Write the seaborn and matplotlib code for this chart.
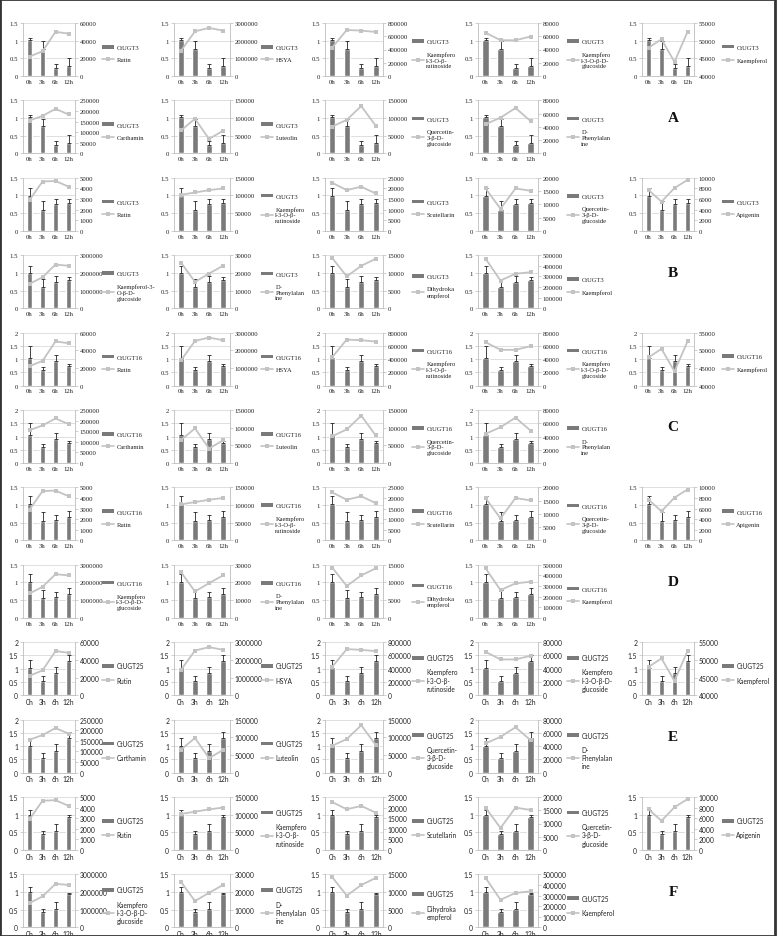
"""Gene expression (bars) vs metabolite content (lines) for CtUGT3 / CtUGT16 / CtUGT25."""

import matplotlib

matplotlib.use("Agg")
import matplotlib.pyplot as plt
import numpy as np
import seaborn as sns
from matplotlib.lines import Line2D
from matplotlib.patches import Patch, Rectangle

TIMES = ["0h", "3h", "6h", "12h"]

# Relative expression (bar height) and upper error bar, per gene / experiment set
UGT3_A_MEAN = [1.03, 0.77, 0.24, 0.29]
UGT3_A_ERR = [0.05, 0.21, 0.10, 0.22]
UGT3_B_MEAN = [0.99, 0.60, 0.75, 0.79]
UGT3_B_ERR = [0.21, 0.23, 0.16, 0.10]
UGT16_C_MEAN = [1.06, 0.59, 0.91, 0.74]
UGT16_C_ERR = [0.45, 0.13, 0.24, 0.09]
UGT16_D_MEAN = [1.02, 0.56, 0.59, 0.67]
UGT16_D_ERR = [0.23, 0.24, 0.14, 0.17]
UGT25_E_MEAN = [1.01, 0.55, 0.83, 1.30]
UGT25_E_ERR = [0.31, 0.19, 0.25, 0.22]
UGT25_F_MEAN = [0.99, 0.44, 0.53, 0.94]
UGT25_F_ERR = [0.15, 0.09, 0.20, 0.04]

# Metabolite content, first metabolite set (groups A, C, E)
RUTIN_1 = [22000, 28000, 50000, 48000]
HSYA_1 = [1430000, 2530000, 2720000, 2570000]
K3RUT_1 = [430000, 695000, 685000, 665000]
K3GLC_1 = [65500, 54000, 54000, 59500]
KAEMPFEROL_1 = [48000, 50400, 44000, 52500]
CARTHAMIN_1 = [155000, 177000, 210000, 184000]
LUTEOLIN_1 = [65000, 98000, 41000, 64000]
Q3GLC_1 = [76000, 95000, 134000, 78000]
DPHE_1 = [44000, 54000, 68500, 49000]

# Metabolite content, second metabolite set (groups B, D, F)
RUTIN_2 = [2900, 4650, 4700, 4170]
K3RUT_2 = [102000, 108500, 115000, 120000]
SCUTELLARIN_2 = [22600, 19200, 20800, 17600]
Q3GLC_2 = [16000, 8300, 16000, 15100]
APIGENIN_2 = [7700, 5500, 8080, 9600]
K3GLC_2 = [1380000, 1750000, 2470000, 2400000]
DPHE_2 = [25800, 14900, 19600, 24000]
DHK_2 = [14200, 9000, 12000, 14000]
KAEMPFEROL_2 = [468000, 261000, 325000, 340000]

# (legend text, values, (right-axis min, max, step))
SET1_ROWS = [
    [
        ("Rutin", RUTIN_1, (0, 60000, 20000)),
        ("HSYA", HSYA_1, (0, 3000000, 1000000)),
        ("Kaempfero\nl-3-O-β-\nrutinoside", K3RUT_1, (0, 800000, 200000)),
        ("Kaempfero\nl-3-O-β-D-\nglucoside", K3GLC_1, (0, 80000, 20000)),
        ("Kaempferol", KAEMPFEROL_1, (40000, 55000, 5000)),
    ],
    [
        ("Carthamin", CARTHAMIN_1, (0, 250000, 50000)),
        ("Luteolin", LUTEOLIN_1, (0, 150000, 50000)),
        ("Quercetin-\n3-β-D-\nglucoside", Q3GLC_1, (0, 150000, 50000)),
        ("D-\nPhenylalan\nine", DPHE_1, (0, 80000, 20000)),
    ],
]


def set2_rows(k3glc_label):
    return [
        [
            ("Rutin", RUTIN_2, (0, 5000, 1000)),
            ("Kaempfero\nl-3-O-β-\nrutinoside", K3RUT_2, (0, 150000, 50000)),
            ("Scutellarin", SCUTELLARIN_2, (0, 25000, 5000)),
            ("Quercetin-\n3-β-D-\nglucoside", Q3GLC_2, (0, 20000, 5000)),
            ("Apigenin", APIGENIN_2, (0, 10000, 2000)),
        ],
        [
            (k3glc_label, K3GLC_2, (0, 3000000, 1000000)),
            ("D-\nPhenylalan\nine", DPHE_2, (0, 30000, 10000)),
            ("Dihydroka\nempferol", DHK_2, (0, 15000, 5000)),
            ("Kaempferol", KAEMPFEROL_2, (0, 500000, 100000)),
        ],
    ]


SERIF = "Liberation Serif"
SANS = "Lato"

GROUPS = [
    ("A", "CtUGT3", UGT3_A_MEAN, UGT3_A_ERR, 1.5, SET1_ROWS, SERIF),
    ("B", "CtUGT3", UGT3_B_MEAN, UGT3_B_ERR, 1.5, set2_rows("Kaempferol-3-\nO-β-D-\nglucoside"), SERIF),
    ("C", "CtUGT16", UGT16_C_MEAN, UGT16_C_ERR, 2.0, SET1_ROWS, SERIF),
    ("D", "CtUGT16", UGT16_D_MEAN, UGT16_D_ERR, 1.5, set2_rows("Kaempfero\nl-3-O-β-D-\nglucoside"), SERIF),
    ("E", "CtUGT25", UGT25_E_MEAN, UGT25_E_ERR, 2.0, SET1_ROWS, SANS),
    ("F", "CtUGT25", UGT25_F_MEAN, UGT25_F_ERR, 1.5, set2_rows("Kaempfero\nl-3-O-β-D-\nglucoside"), SANS),
]

# Layout in pixels
FIG_W, FIG_H = 780, 937
COL_LEFT = [23, 174, 325, 478, 642]
COL_WIDTH = [52, 56, 58, 60, 52]
LEGEND_GAP = [27, 31, 29, 29, 28]
ROW_TOP = 24
ROW_PITCH = 77.4
AX_H = 53
LETTER_X = 673

BAR_COLOR = "#7a7a7a"
LINE_COLOR = "#c3c3c3"
ERR_COLOR = "#222222"
AXIS_COLOR = "#bdbdbd"
GRID_COLOR = "#d9d9d9"
TEXT_COLOR = "#222222"
FONT_SIZE = 4.9
LEGEND_SIZE = 4.7

sns.set_theme(style="white")
plt.rcParams.update({"axes.linewidth": 0.6, "text.color": TEXT_COLOR})


def draw_panel(fig, row, col, gene, means, errs, left_max, spec, family):
    label, values, (lo, hi, step) = spec
    width = COL_WIDTH[col]
    top = ROW_TOP + row * ROW_PITCH
    ax = fig.add_axes([COL_LEFT[col] / FIG_W, 1 - (top + AX_H) / FIG_H, width / FIG_W, AX_H / FIG_H])
    xs = list(range(len(TIMES)))

    sns.barplot(x=TIMES, y=means, color=BAR_COLOR, saturation=1, width=0.42, errorbar=None, ax=ax)
    ax.errorbar(xs, means, yerr=[[0] * len(errs), errs], fmt="none", ecolor=ERR_COLOR,
                elinewidth=0.6, capsize=1.3, capthick=0.6)

    ax2 = ax.twinx()
    sns.lineplot(x=xs, y=values, color=LINE_COLOR, marker="s", markersize=3.3, markeredgewidth=0,
                 linewidth=1.3, errorbar=None, ax=ax2)

    ax.set_xlim(-0.5, len(TIMES) - 0.5)
    ax.set_ylim(0, left_max)
    ax2.set_ylim(lo, hi)
    left_ticks = np.arange(0, left_max + 0.25, 0.5)
    ax.set_yticks(left_ticks, labels=[f"{t:g}" for t in left_ticks], fontsize=FONT_SIZE, fontfamily=family)
    right_ticks = np.arange(lo, hi + step / 2, step)
    ax2.set_yticks(right_ticks, labels=[f"{int(t)}" for t in right_ticks], fontsize=FONT_SIZE, fontfamily=family)
    ax.set_xticks(xs, labels=TIMES, fontsize=FONT_SIZE, fontfamily=family)

    for a in (ax, ax2):
        a.set_xlabel("")
        a.set_ylabel("")
        for side in ("top", "left", "right", "bottom"):
            a.spines[side].set_visible(False)
    ax.spines["left"].set_visible(True)
    ax.spines["bottom"].set_visible(True)
    ax2.spines["right"].set_visible(True)
    for s in (ax.spines["left"], ax.spines["bottom"], ax2.spines["right"]):
        s.set_color(AXIS_COLOR)
        s.set_linewidth(0.6)

    ax.yaxis.grid(True, color=GRID_COLOR, linewidth=0.6)
    ax.set_axisbelow(True)
    ax.tick_params(axis="x", length=0, pad=2, colors=TEXT_COLOR)
    ax.tick_params(axis="y", length=2, width=0.5, pad=1.5, color=AXIS_COLOR, labelcolor=TEXT_COLOR)
    ax2.tick_params(axis="y", length=2, width=0.5, pad=1.5, color=AXIS_COLOR, labelcolor=TEXT_COLOR)

    handles = [
        Patch(facecolor=BAR_COLOR, edgecolor="none"),
        Line2D([], [], color=LINE_COLOR, marker="s", markersize=2.8, markeredgewidth=0, linewidth=1.2),
    ]
    ax2.legend(handles, [gene, label], loc="center left",
               bbox_to_anchor=(1 + LEGEND_GAP[col] / width, 0.42),
               frameon=False, prop={"family": family, "size": LEGEND_SIZE}, handlelength=1.9,
               handleheight=0.45, handletextpad=0.3, labelspacing=1.1, borderpad=0, borderaxespad=0)


def main() -> None:
    fig = plt.figure(figsize=(FIG_W / 100, FIG_H / 100), dpi=100)
    fig.patch.set_facecolor("white")

    for g, (letter, gene, means, errs, left_max, rows, family) in enumerate(GROUPS):
        for r, row_specs in enumerate(rows):
            row = 2 * g + r
            for c, spec in enumerate(row_specs):
                draw_panel(fig, row, c, gene, means, errs, left_max, spec, family)
        letter_y = ROW_TOP + (2 * g + 1) * ROW_PITCH + 17
        fig.text(LETTER_X / FIG_W, 1 - letter_y / FIG_H, letter, ha="center", va="center",
                 fontsize=11, fontweight="bold", fontfamily=SERIF, color="#111111")

    fig.add_artist(Rectangle((0, 0), 775 / FIG_W, 1, transform=fig.transFigure, fill=False,
                             edgecolor="#333333", linewidth=2))
    fig.savefig("out.png", dpi=100)
    plt.close(fig)


if __name__ == "__main__":
    main()
